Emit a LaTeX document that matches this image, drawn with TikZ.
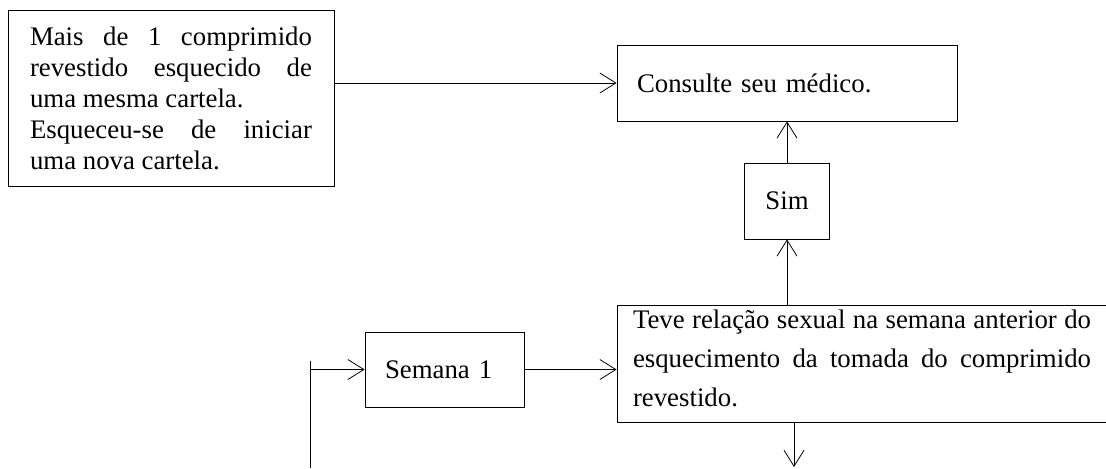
\documentclass[tikz,border=0pt]{standalone}
\usepackage{fontspec}
\setmainfont{Liberation Serif}
\usetikzlibrary{arrows.meta}
\tikzset{
line width=1.2pt, % all lines and box borders
>={Straight Barb[length=8pt,width=10pt]}, % open arrow heads
}
\tikzstyle{block} = [rectangle, draw, align=justify, inner xsep=10pt, inner ysep=0pt]
\tikzstyle{line} = [draw, ->]

\begin{document}
\begin{tikzpicture}[x=0.5pt, y=0.5pt, font=\fontsize{13.4}{15.5}\selectfont]
\useasboundingbox (0,0) rectangle (1106,-468);
\node [block, text width=141pt, inner xsep=11pt, minimum height=88pt] (forgot) at (171,-98)
  {Mais de 1 comprimido\linebreak revestido esquecido de\linebreak uma mesma cartela.\par
   Esqueceu-se de iniciar\linebreak uma nova cartela.};
\node [block, align=left, text width=150pt, minimum height=38pt] (doctor) at (787,-83) {Consulte seu médico.};
\node [block, align=center, text width=22.5pt, minimum height=38pt, below of=doctor, node distance=59pt] (yes) {Sim};
\node [block, text width=229pt, inner xsep=8pt, minimum height=58.5pt, text height=9pt, text depth=44pt,
  font=\fontsize{13.4}{19.5}\selectfont] (sex) at (862,-363.5)
  {Teve relação sexual na semana anterior do\linebreak esquecimento da tomada do comprimido\linebreak revestido.};
\node [block, align=left, text width=59.5pt, minimum height=37.5pt] (week) at (444.5,-369.5) {Semana 1};
\coordinate (inbot) at (310,-468);
\coordinate (intop) at (310,-361);
\coordinate (outbot) at (794,-467);

  \path [line] (forgot.east |- doctor.west) -- (doctor.west);
  \path [line] (yes.north) -- (yes.north |- doctor.south);
  \path [line] (yes.south |- sex.north) -- (yes.south);
  \path [line] (week.east) -- (week.east -| sex.west);
  \draw (inbot) -- (intop);
  \path [line] (week.west -| inbot) -- (week.west);
  \path [line] (sex.south -| outbot) -- (outbot);

\end{tikzpicture}
\end{document}
